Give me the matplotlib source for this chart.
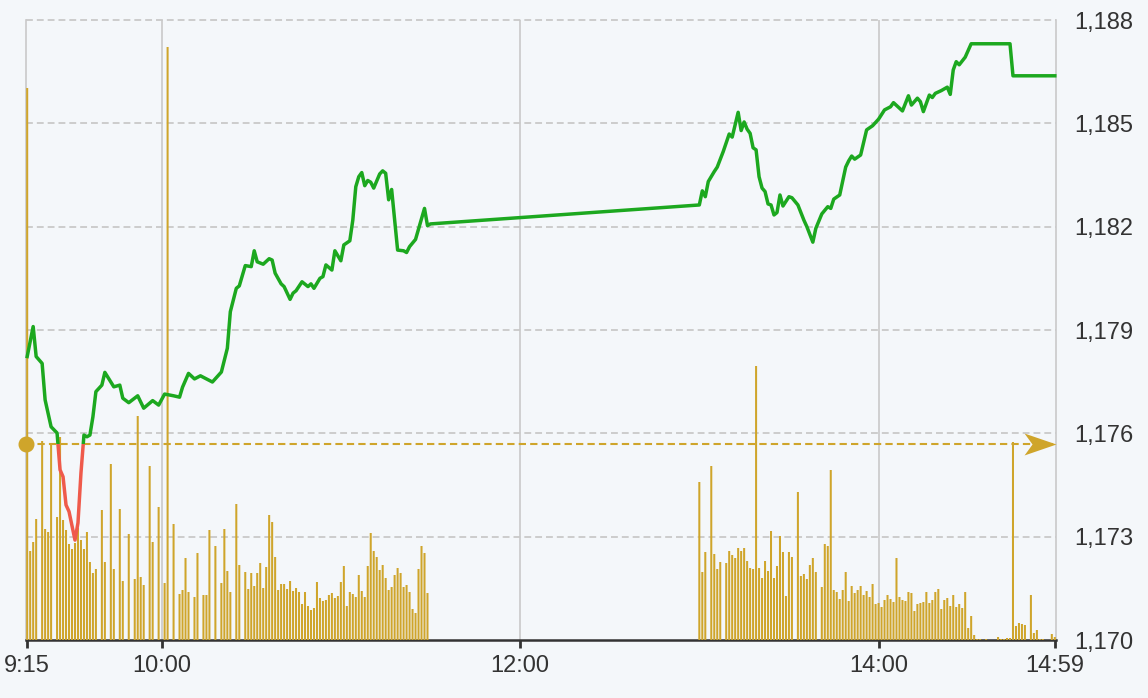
import numpy as np
import matplotlib.pyplot as plt
from matplotlib.patches import Rectangle
from matplotlib.path import Path
from matplotlib.transforms import blended_transform_factory
from matplotlib.ticker import FuncFormatter

plt.rcParams['font.family'] = ['Liberation Sans', 'DejaVu Sans']

# last price, morning session
am_times = ['9:15', '9:17', '9:18', '9:20', '9:21', '9:23', '9:25', '9:26', '9:27', '9:28',
            '9:29', '9:31', '9:32', '9:33', '9:34', '9:35', '9:36', '9:37', '9:38', '9:40',
            '9:41', '9:44', '9:46', '9:47', '9:49', '9:52', '9:54', '9:57', '9:59', '10:01',
            '10:04', '10:06', '10:07', '10:09', '10:11', '10:13', '10:15', '10:17', '10:20', '10:22',
            '10:23', '10:25', '10:26', '10:28', '10:30', '10:31', '10:32', '10:34', '10:36', '10:37',
            '10:38', '10:40', '10:41', '10:43', '10:44', '10:45', '10:47', '10:49', '10:50', '10:51',
            '10:53', '10:54', '10:55', '10:57', '10:58', '11:00', '11:01', '11:03', '11:04', '11:05',
            '11:06', '11:07', '11:08', '11:09', '11:10', '11:11', '11:13', '11:14', '11:15', '11:16',
            '11:17', '11:19', '11:21', '11:22', '11:23', '11:25', '11:28', '11:29', '11:30']
am_prices = [1178.23, 1179.10, 1178.23, 1178.03, 1176.97, 1176.19, 1176.01, 1174.94, 1174.74, 1173.92,
             1173.73, 1172.90, 1173.40, 1174.85, 1175.95, 1175.90, 1175.95, 1176.48, 1177.21, 1177.40,
             1177.77, 1177.35, 1177.40, 1177.02, 1176.89, 1177.09, 1176.73, 1176.95, 1176.82, 1177.14,
             1177.09, 1177.05, 1177.34, 1177.74, 1177.58, 1177.67, 1177.58, 1177.49, 1177.78, 1178.47,
             1179.53, 1180.21, 1180.28, 1180.87, 1180.84, 1181.30, 1180.98, 1180.91, 1181.07, 1181.03,
             1180.65, 1180.34, 1180.26, 1179.89, 1180.07, 1180.14, 1180.40, 1180.26, 1180.34, 1180.21,
             1180.50, 1180.55, 1180.89, 1180.74, 1181.30, 1181.01, 1181.47, 1181.59, 1182.19, 1183.16,
             1183.45, 1183.57, 1183.19, 1183.34, 1183.29, 1183.12, 1183.53, 1183.62, 1183.55, 1182.78,
             1183.08, 1181.32, 1181.30, 1181.25, 1181.42, 1181.63, 1182.53, 1182.03, 1182.08]

# last price, afternoon session
pm_times = ['13:00', '13:01', '13:02', '13:03', '13:05', '13:06', '13:08', '13:10', '13:11', '13:13',
            '13:14', '13:15', '13:16', '13:17', '13:18', '13:19', '13:20', '13:21', '13:22', '13:23',
            '13:24', '13:25', '13:26', '13:27', '13:28', '13:30', '13:31', '13:33', '13:35', '13:36',
            '13:38', '13:39', '13:41', '13:43', '13:44', '13:45', '13:47', '13:49', '13:50', '13:51',
            '13:52', '13:54', '13:56', '13:58', '14:00', '14:02', '14:04', '14:05', '14:08', '14:10',
            '14:11', '14:13', '14:14', '14:15', '14:17', '14:18', '14:19', '14:21', '14:23', '14:24',
            '14:25', '14:26', '14:27', '14:29', '14:31', '14:44', '14:45', '14:59']
pm_prices = [1182.63, 1183.04, 1182.87, 1183.31, 1183.60, 1183.73, 1184.18, 1184.69, 1184.60, 1185.32,
             1184.79, 1185.04, 1184.83, 1184.71, 1184.29, 1184.23, 1183.45, 1183.12, 1183.02, 1182.66,
             1182.63, 1182.34, 1182.41, 1182.92, 1182.60, 1182.87, 1182.84, 1182.63, 1182.19, 1182.00,
             1181.55, 1181.95, 1182.37, 1182.58, 1182.53, 1182.80, 1182.92, 1183.73, 1183.91, 1184.05,
             1183.96, 1184.08, 1184.81, 1184.93, 1185.12, 1185.39, 1185.48, 1185.60, 1185.36, 1185.80,
             1185.53, 1185.73, 1185.63, 1185.34, 1185.82, 1185.75, 1185.87, 1185.95, 1186.05, 1185.84,
             1186.55, 1186.79, 1186.70, 1186.92, 1187.31, 1187.31, 1186.38, 1186.38]

prev_close = 1175.68

# volume per minute, 9:15 - 11:29
vol_am = [552, 89, 98, 121, 0, 199, 111, 108, 195, 0,
          123, 203, 120, 110, 96, 91, 97, 112, 100, 91,
          108, 78, 67, 71, 0, 130, 78, 0, 176, 71,
          0, 131, 59, 0, 106, 0, 61, 224, 63, 55,
          0, 174, 98, 0, 133, 0, 57, 593, 0, 116,
          0, 46, 50, 82, 48, 0, 43, 87, 0, 45,
          45, 110, 0, 94, 0, 57, 111, 69, 48, 0,
          136, 75, 0, 68, 51, 67, 54, 67, 77, 52,
          73, 125, 118, 83, 50, 56, 56, 51, 59, 49,
          52, 48, 36, 48, 34, 30, 32, 58, 42, 39,
          40, 45, 47, 42, 44, 58, 74, 34, 48, 46,
          43, 65, 49, 43, 74, 107, 89, 83, 70, 75,
          62, 50, 53, 65, 72, 67, 53, 55, 48, 31,
          27, 71, 94, 87, 47]

# volume per minute, 13:00 - 14:59
vol_pm = [158, 68, 88, 0, 174, 86, 71, 78, 0, 77,
          89, 85, 82, 92, 89, 92, 79, 72, 71, 274,
          72, 62, 79, 69, 109, 62, 74, 104, 88, 44,
          88, 83, 0, 148, 64, 66, 61, 75, 82, 68,
          0, 53, 96, 94, 170, 50, 48, 41, 50, 68,
          39, 54, 47, 50, 54, 45, 49, 43, 56, 36,
          37, 33, 40, 45, 41, 38, 82, 43, 40, 39,
          48, 47, 29, 36, 37, 38, 48, 37, 40, 48,
          51, 31, 40, 42, 34, 45, 33, 36, 32, 48,
          12, 24, 5, 1, 1, 0, 1, 0, 0, 0,
          3, 1, 1, 2, 2, 198, 14, 17, 16, 15,
          0, 45, 7, 10, 1, 1, 0, 0, 6, 3]

tick_times = ['9:15', '10:00', '12:00', '14:00', '14:59']
price_ticks = [1170, 1173, 1176, 1179, 1182, 1185, 1188]


def minutes(s):
    h, m = s.split(':')
    return int(h) * 60 + int(m) - (9 * 60 + 15)


bg = '#f4f7fa'
gold = '#cfa52b'
green = '#1ca81f'
red = '#ef5a4b'
grid_c = '#c9c9c9'
text_c = '#333333'

t_line = [minutes(t) for t in am_times + pm_times]
p_line = am_prices + pm_prices
x_am = np.arange(len(vol_am)) + minutes('9:15')
x_pm = np.arange(len(vol_pm)) + minutes('13:00')

fig = plt.figure(figsize=(11.48, 6.98), dpi=100, facecolor=bg)
ax = fig.add_axes([26 / 1148, 58 / 698, 1030 / 1148, 620 / 698], facecolor=bg)
ax.set_xlim(-0.4, 344.4)
ax.set_ylim(1170, 1188)

# volume bars (own scale) and price line (price scale) on twin axes
axv = ax.twinx()
axv.set_ylim(0, 620)
axv.axis('off')
axp = ax.twinx()
axp.set_ylim(1170, 1188)
axp.axis('off')

# grid
for y in price_ticks[1:]:
    ax.axhline(y, color=grid_c, lw=1.3, ls=(0, (3.8, 2.2)), clip_on=False, zorder=0)
for t in ['10:00', '12:00', '14:00']:
    ax.axvline(minutes(t), color=grid_c, lw=1.2, zorder=0)

ax.yaxis.tick_right()
ax.set_yticks(price_ticks)
ax.yaxis.set_major_formatter(FuncFormatter(lambda v, p: f'{v:,.0f}'))
ax.tick_params(axis='y', length=0, pad=13, labelsize=17, labelcolor=text_c)
ax.set_xticks([minutes(t) for t in tick_times], tick_times)
ax.tick_params(axis='x', length=6, width=2, color=text_c, pad=5, labelsize=17, labelcolor=text_c)

ax.spines['top'].set_visible(False)
for s in ['left', 'right']:
    ax.spines[s].set_color(grid_c)
    ax.spines[s].set_linewidth(1.2)
ax.spines['bottom'].set_color(text_c)
ax.spines['bottom'].set_linewidth(1.8)

for xs, vs in [(x_am, vol_am), (x_pm, vol_pm)]:
    bars = axv.bar(xs, vs, width=0.68, color=gold, linewidth=0, clip_on=False)
    for b in bars:
        b.set_snap(False)

axp.axhline(prev_close, color=gold, lw=1.5, ls=(0, (3.5, 2)))

up, = axp.plot(t_line, p_line, color=green, lw=2.5, solid_joinstyle='round')
up.set_clip_path(Rectangle((-10, prev_close), 400, 100, transform=axp.transData))
down, = axp.plot(t_line, p_line, color=red, lw=2.5, solid_joinstyle='round')
down.set_clip_path(Rectangle((-10, 1100), 400, prev_close - 1100, transform=axp.transData))

edge = blended_transform_factory(axp.transAxes, axp.transData)
axp.plot([0], [prev_close], 'o', color=gold, ms=10.5, transform=edge, clip_on=False)
arrow = Path([(0, 0), (-32, 11), (-24, 0), (-32, -11), (0, 0)],
             [Path.MOVETO, Path.LINETO, Path.LINETO, Path.LINETO, Path.CLOSEPOLY])
axp.plot([1], [prev_close], marker=arrow, color=gold, ms=46, mew=0, transform=edge, clip_on=False)

fig.savefig('out.png', dpi=100, facecolor=bg)
